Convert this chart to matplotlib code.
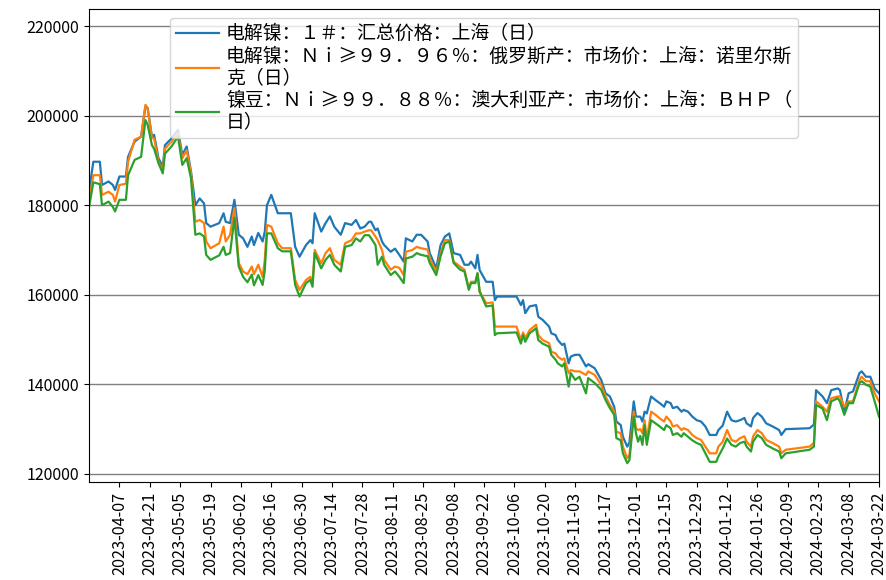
import matplotlib
matplotlib.use("Agg")
import matplotlib.pyplot as plt
import matplotlib.dates as mdates
import pandas as pd

plt.rcParams['font.family'] = ['Noto Sans CJK SC', 'DejaVu Sans']
plt.rcParams['axes.unicode_minus'] = False

dates = [
    "2023-03-24", "2023-03-26", "2023-03-29", "2023-03-30", "2023-04-02", "2023-04-04", "2023-04-05",
    "2023-04-07", "2023-04-10", "2023-04-11", "2023-04-14", "2023-04-17", "2023-04-19", "2023-04-20",
    "2023-04-22", "2023-04-23", "2023-04-25", "2023-04-27", "2023-04-28", "2023-05-01", "2023-05-04",
    "2023-05-06", "2023-05-08", "2023-05-10", "2023-05-12", "2023-05-14", "2023-05-16", "2023-05-17",
    "2023-05-19", "2023-05-23", "2023-05-25", "2023-05-26", "2023-05-28", "2023-05-30", "2023-06-01",
    "2023-06-03", "2023-06-05", "2023-06-07", "2023-06-08", "2023-06-10", "2023-06-12", "2023-06-13",
    "2023-06-14", "2023-06-16", "2023-06-19", "2023-06-21", "2023-06-25", "2023-06-27", "2023-06-29",
    "2023-07-02", "2023-07-04", "2023-07-05", "2023-07-06", "2023-07-09", "2023-07-11", "2023-07-13",
    "2023-07-15", "2023-07-18", "2023-07-20", "2023-07-23", "2023-07-25", "2023-07-27", "2023-07-29",
    "2023-07-31", "2023-08-01", "2023-08-03", "2023-08-04", "2023-08-06", "2023-08-07", "2023-08-10",
    "2023-08-12", "2023-08-14", "2023-08-16", "2023-08-17", "2023-08-20", "2023-08-22", "2023-08-24",
    "2023-08-27", "2023-08-28", "2023-08-31", "2023-09-02", "2023-09-04", "2023-09-06", "2023-09-08",
    "2023-09-11", "2023-09-13", "2023-09-15", "2023-09-16", "2023-09-18", "2023-09-19", "2023-09-20",
    "2023-09-23", "2023-09-26", "2023-09-27", "2023-09-28", "2023-10-07", "2023-10-09", "2023-10-10",
    "2023-10-11", "2023-10-13", "2023-10-16", "2023-10-17", "2023-10-19", "2023-10-22", "2023-10-23",
    "2023-10-25", "2023-10-26", "2023-10-28", "2023-10-29", "2023-10-31", "2023-11-01", "2023-11-03",
    "2023-11-05", "2023-11-08", "2023-11-09", "2023-11-12", "2023-11-15", "2023-11-17", "2023-11-19",
    "2023-11-21", "2023-11-22", "2023-11-24", "2023-11-25", "2023-11-27", "2023-11-28", "2023-11-30",
    "2023-12-01", "2023-12-02", "2023-12-03", "2023-12-04", "2023-12-05", "2023-12-06", "2023-12-08",
    "2023-12-10", "2023-12-12", "2023-12-14", "2023-12-15", "2023-12-17", "2023-12-18", "2023-12-20",
    "2023-12-22", "2023-12-23", "2023-12-25", "2023-12-27", "2023-12-29", "2023-12-31", "2024-01-02",
    "2024-01-04", "2024-01-07", "2024-01-08", "2024-01-10", "2024-01-12", "2024-01-14", "2024-01-16",
    "2024-01-18", "2024-01-20", "2024-01-21", "2024-01-23", "2024-01-24", "2024-01-26", "2024-01-28",
    "2024-01-30", "2024-02-02", "2024-02-05", "2024-02-06", "2024-02-08", "2024-02-19", "2024-02-21",
    "2024-02-22", "2024-02-25", "2024-02-27", "2024-02-29", "2024-03-03", "2024-03-04", "2024-03-06",
    "2024-03-08", "2024-03-10", "2024-03-13", "2024-03-14", "2024-03-16", "2024-03-18", "2024-03-20",
    "2024-03-22",
]

ni_1_shanghai = [
    183000, 189700, 189700, 184500, 185300, 184500, 183400,
    186400, 186400, 190800, 194200, 195300, 202000, 201700,
    195300, 195700, 190500, 188600, 193400, 194900, 196800,
    191200, 193100, 187500, 180000, 181500, 180400, 176000,
    175200, 176000, 178200, 176300, 176000, 181200, 173400,
    172600, 170700, 173000, 171100, 173800, 171900, 174100,
    180000, 182300, 178200, 178200, 178200, 170700, 168500,
    171100, 172200, 171500, 178200, 174100, 176000, 177500,
    175200, 173400, 176000, 175600, 176700, 174800, 175200,
    176300, 176300, 174400, 174800, 171900, 171100, 169600,
    170300, 168900, 167400, 172600, 171900, 173400, 173400,
    171900, 169300, 165900, 171100, 173000, 173700, 169300,
    168900, 166700, 166700, 167400, 165900, 168900, 165500,
    162900, 162900, 158800, 159600, 159600, 157700, 158800,
    155900, 157400, 157700, 155100, 154400, 152900, 151400,
    151000, 149900, 148800, 149100, 144700, 146200, 146600,
    146600, 144000, 144500, 143600, 141000, 138000, 137300,
    135000, 131700, 130900, 128300, 126100, 127000, 136200,
    132800, 132800, 132800, 131700, 133900, 133500, 137300,
    136500, 135800, 135000, 136200, 135800, 134700, 135000,
    133900, 134300, 133900, 132800, 132000, 131700, 130600,
    128700, 128700, 129800, 130800, 133900, 132000, 131700,
    132000, 132500, 131300, 130600, 132500, 133600, 132800,
    131300, 130600, 129800, 128700, 130000, 130200, 131000,
    138700, 137300, 135800, 138700, 139100, 138700, 133900,
    138000, 138400, 142500, 142900, 141700, 141700, 139100,
    138000,
]

ni_russia_norilsk = [
    181000, 186700, 186700, 182300, 183000, 182300, 180800,
    184500, 184800, 189700, 194600, 195300, 202400, 201700,
    195000, 194900, 189700, 187800, 192600, 194200, 196000,
    190500, 192300, 187100, 176300, 176700, 176000, 171900,
    170400, 171500, 175200, 171900, 173400, 179400, 167100,
    165200, 164600, 166300, 164600, 166700, 164000, 167800,
    175600, 175200, 171500, 170400, 170400, 163300, 161100,
    163300, 164000, 162600, 170000, 167000, 169300, 170400,
    167800, 166700, 171500, 172200, 173700, 173700, 174100,
    174400, 174400, 173000, 172200, 170000, 167800, 165600,
    166300, 166000, 164400, 169600, 170000, 170700, 170400,
    170100, 168100, 165100, 169300, 172200, 172200, 167400,
    166300, 165600, 161400, 162900, 162900, 164800, 160700,
    158100, 158300, 152900, 152900, 152900, 149900, 151600,
    150300, 152100, 153300, 151000, 149900, 149200, 147300,
    146900, 146200, 145500, 145800, 142500, 143200, 142900,
    142900, 142100, 142900, 142100, 139900, 137300, 135400,
    134000, 129400, 129100, 126100, 123500, 124200, 133900,
    130200, 129800, 130000, 129100, 132000, 127600, 133900,
    133200, 132400, 131700, 132800, 131700, 130600, 130900,
    129800, 130200, 129800, 128700, 128000, 127600, 126100,
    124600, 124600, 126100, 127200, 129800, 127600, 127200,
    128000, 128400, 127200, 126100, 128400, 129800, 129100,
    127600, 126900, 126100, 124600, 125400, 126100, 126900,
    136200, 135000, 133900, 136900, 137300, 137300, 135000,
    136200, 136200, 141000, 141700, 140700, 140700, 138000,
    136200,
]

ni_beans_bhp = [
    179500, 185100, 184700, 180000, 180800, 179600, 178600,
    181200, 181200, 186700, 190100, 190800, 199000, 198000,
    193400, 192600, 189400, 187100, 191500, 193100, 195300,
    189000, 190500, 186000, 173400, 173700, 173000, 168900,
    167800, 168800, 170700, 168900, 169300, 177200, 166300,
    164000, 162800, 164500, 162100, 164400, 162200, 165500,
    173700, 173700, 170400, 169700, 169700, 162200, 159600,
    162600, 163300, 161800, 169300, 165900, 167800, 168900,
    166700, 165200, 170700, 171100, 172600, 171900, 173300,
    173300, 172600, 171100, 166700, 168500, 166700, 164400,
    165200, 164000, 162600, 168100, 168500, 169300, 168900,
    168600, 167100, 164400, 168600, 171500, 171900, 167100,
    165600, 165200, 161100, 162600, 162600, 164800, 160700,
    157400, 157600, 151000, 151400, 151600, 149100, 151000,
    149500, 151400, 152500, 149900, 149100, 148400, 146600,
    145500, 144700, 144000, 144700, 139500, 142500, 141000,
    141700, 138000, 141400, 140300, 138800, 136500, 134700,
    133200, 128000, 127500, 124600, 122400, 123100, 132800,
    129100, 127200, 128500, 126500, 130900, 126500, 132000,
    131300, 130600, 129800, 130900, 130200, 128700, 129100,
    128300, 129100, 128300, 127500, 126900, 126500, 124600,
    122700, 122700, 123900, 125700, 127900, 126500, 126100,
    126900, 127200, 126100, 125000, 127200, 128700, 128000,
    126500, 125700, 125000, 123500, 124600, 125400, 126100,
    135400, 134600, 132000, 136200, 136900, 136200, 133200,
    135800, 135800, 140300, 140700, 139900, 139500, 136200,
    132800,
]

labels = [
    "电解镍：１＃：汇总价格：上海（日）",
    "电解镍：Ｎｉ≥９９．９６％：俄罗斯产：市场价：上海：诺里尔斯\n克（日）",
    "镍豆：Ｎｉ≥９９．８８％：澳大利亚产：市场价：上海：ＢＨＰ（\n日）",
]

x = pd.to_datetime(dates)

fig = plt.figure(figsize=(8.87, 5.80), dpi=100)
ax = fig.add_axes([89 / 887, 1 - 482 / 580, (879 - 89) / 887, (482 - 9) / 580])

for series, lab in zip([ni_1_shanghai, ni_russia_norilsk, ni_beans_bhp], labels):
    ax.plot(x, series, linewidth=1.6, label=lab)

ax.set_xlim(pd.Timestamp("2023-03-24"), pd.Timestamp("2024-03-22"))
ax.set_ylim(118200, 223800)
ax.set_yticks([120000, 140000, 160000, 180000, 200000, 220000])
ax.grid(axis='y', color='#808080', linewidth=1.0)
ax.set_axisbelow(True)

ticks = pd.date_range("2023-04-07", "2024-03-22", freq="14D")
ax.set_xticks(ticks)
ax.xaxis.set_major_formatter(mdates.DateFormatter("%Y-%m-%d"))
ax.tick_params(axis='x', labelrotation=90, labelsize=11.7)
ax.tick_params(axis='y', labelsize=11.5)

leg = ax.legend(loc='upper center', handlelength=2.27, handletextpad=0.4,
                borderaxespad=0.45, labelspacing=0.1, borderpad=0.3,
                prop={'family': ['Noto Sans CJK SC', 'DejaVu Sans'], 'size': 13.6})
for t in leg.get_texts():
    t.set_linespacing(1.0)

fig.savefig("out.png", dpi=100)
